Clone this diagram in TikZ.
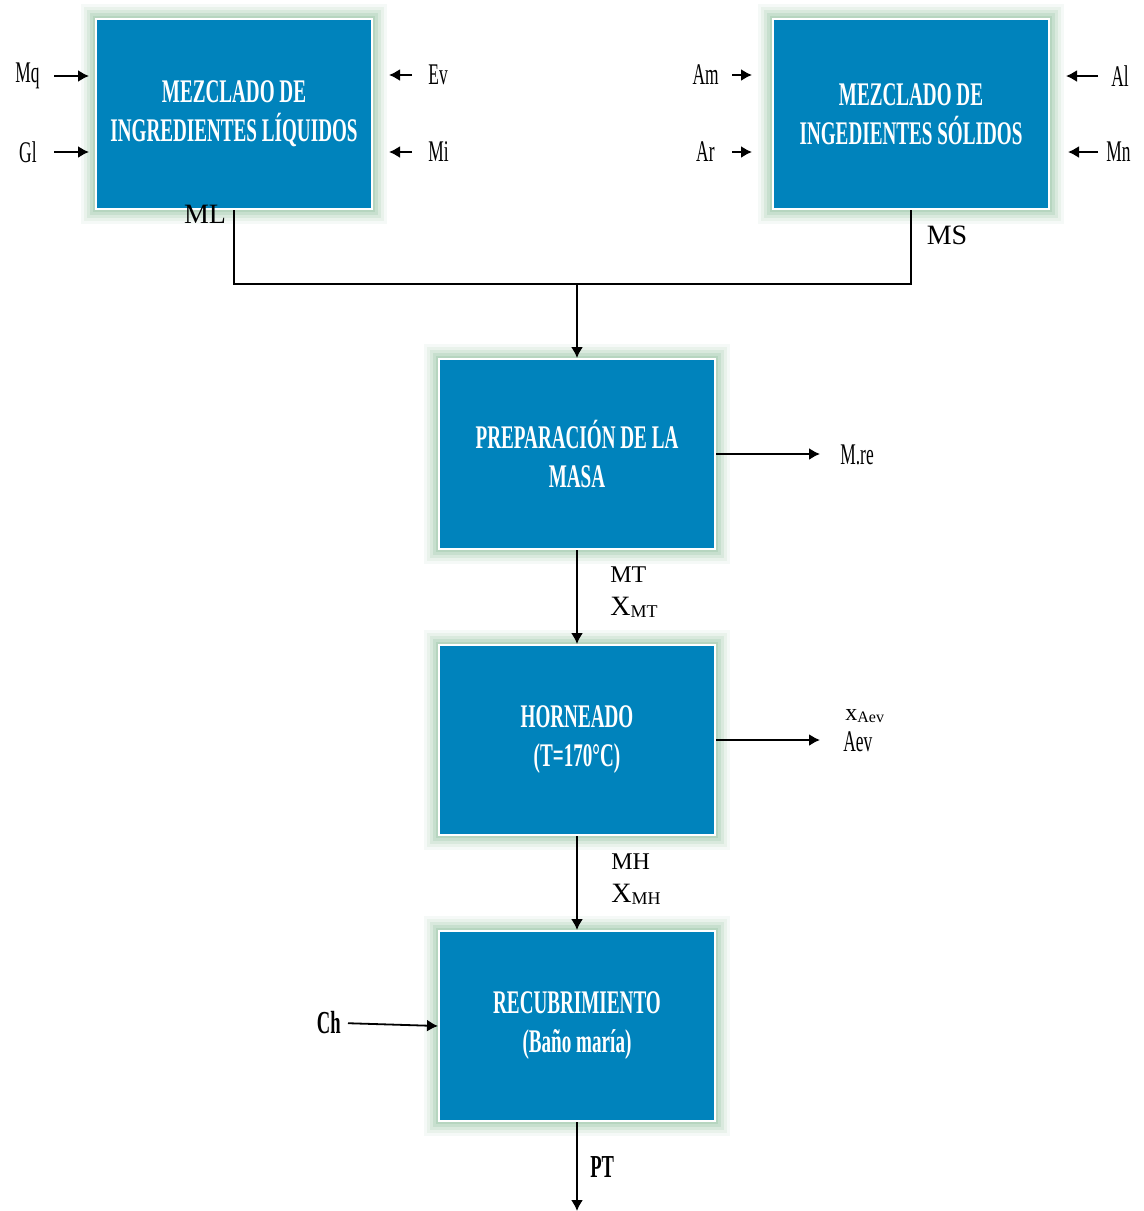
\documentclass[tikz,border=0pt]{standalone}
\usepackage{fontspec}
\setmainfont{Liberation Serif}
\newfontfamily\narrowfont[FakeStretch=0.58]{Liberation Serif}
\usepackage{xcolor}
\usepackage{tikz}
\usetikzlibrary{arrows.meta}
\definecolor{procblue}{RGB}{0,131,188}
\definecolor{glowgreen}{RGB}{160,200,172}
\tikzstyle{node:process}=[rectangle,draw=white,line width=1pt,fill=procblue,text=white,
  minimum width=138pt,minimum height=95pt,inner sep=0pt,align=center,
  font=\narrowfont\bfseries\fontsize{16.5}{19.5}\selectfont,
  preaction={draw=glowgreen,line width=15pt,opacity=0.10,rounded corners=6pt},
  preaction={draw=glowgreen,line width=12pt,opacity=0.15,rounded corners=5pt},
  preaction={draw=glowgreen,line width=9pt,opacity=0.22,rounded corners=4pt},
  preaction={draw=glowgreen,line width=6pt,opacity=0.3,rounded corners=2pt},
  preaction={draw=glowgreen,line width=3pt,opacity=0.45}]
\tikzstyle{node:label}=[inner sep=0pt,font=\narrowfont\fontsize{15}{15}\selectfont]
\tikzstyle{node:boldlabel}=[inner sep=0pt,font=\narrowfont\bfseries\fontsize{16}{16}\selectfont]
\tikzstyle{node:stream}=[inner sep=0pt,font=\fontsize{14}{14}\selectfont]
\tikzstyle{draw:flow}=[-{Latex[length=5.5pt,width=6pt]}, line width=0.9pt]
\tikzstyle{draw:line}=[line width=0.9pt]

\begin{document}
\begin{tikzpicture}[x=0.5pt,y=-0.5pt]
        \useasboundingbox (0,0) rectangle (1144,1211);

        % Mixing stage
        \node[node:process] (B1) at (234,114) {MEZCLADO DE\\INGREDIENTES LÍQUIDOS};
        \node[node:process] (B2) at (911,114) {MEZCLADO DE\\INGEDIENTES SÓLIDOS};

        % Main line
        \node[node:process] (B3) at (577,454) {PREPARACIÓN DE LA\\MASA};
        \node[node:process] (B4) at (577,740) {HORNEADO\\(T=170°C)};
        \node[node:process] (B5) at (577,1026) {RECUBRIMIENTO\\(Baño maría)};

        % Inputs of the mixers
        \node[node:label,anchor=east] (Mq) at (40,76) {Mq};
        \node[node:label,anchor=east] (Gl) at (37,152) {Gl};
        \node[node:label,anchor=west] (Ev) at (428,75) {Ev};
        \node[node:label,anchor=west] (Mi) at (428,152) {Mi};
        \node[node:label,anchor=east] (Am) at (719,75) {Am};
        \node[node:label,anchor=east] (Ar) at (715,152) {Ar};
        \node[node:label,anchor=west] (Al) at (1111,76) {Al};
        \node[node:label,anchor=west] (Mn) at (1106,152) {Mn};

        \foreach \lab/\a/\b in {Mq/7/3, Gl/8.5/3} {
                \draw[draw:flow, shorten <=\a pt, shorten >=\b pt] (\lab.east) -- (B1.west |- \lab.east);
            }
        \foreach \lab/\a/\b in {Ev/8/8, Mi/8/8} {
                \draw[draw:flow, shorten <=\a pt, shorten >=\b pt] (\lab.west) -- (B1.east |- \lab.west);
            }
        \foreach \lab/\a/\b in {Am/6.5/10, Ar/8.5/10} {
                \draw[draw:flow, shorten <=\a pt, shorten >=\b pt] (\lab.east) -- (B2.west |- \lab.east);
            }
        \foreach \lab/\a/\b in {Al/6.5/8, Mn/4/9} {
                \draw[draw:flow, shorten <=\a pt, shorten >=\b pt] (\lab.west) -- (B2.east |- \lab.west);
            }

        % Streams between the stages
        \coordinate (J) at (577,284);
        \coordinate (End) at (577,1211);
        \draw[draw:line] (B1.south) |- (J) -| (B2.south);
        \draw[draw:flow] (J) -- (B3.north);
        \draw[draw:flow] (B3.south) -- (B4.north);
        \draw[draw:flow] (B4.south) -- (B5.north);
        \draw[draw:flow] (B5.south) -- (End);

        \node[node:stream] (ML) at (205,214) {ML};
        \node[node:stream] (MS) at (947,235) {MS};
        \node[node:stream,anchor=west,font=\fontsize{12}{12}\selectfont] (MT) at (610,575) {MT};
        \node[node:stream,anchor=west] (XMT) at (610,607) {X\raisebox{-1pt}{\fontsize{9}{9}\selectfont MT}};
        \node[node:stream,anchor=west,font=\fontsize{12}{12}\selectfont] (MH) at (611,862) {MH};
        \node[node:stream,anchor=west] (XMH) at (611,894) {X\raisebox{-1pt}{\fontsize{9}{9}\selectfont MH}};
        \node[node:boldlabel,anchor=west] (PT) at (590,1167) {PT};

        % Outputs and coating input
        \node[node:label,anchor=west] (Mre) at (840,455) {M.re};
        \node[node:stream,anchor=west,font=\fontsize{12}{12}\selectfont] (xAev) at (845,716) {x\raisebox{-1pt}{\fontsize{8}{8}\selectfont Aev}};
        \node[node:label,anchor=west] (Aev) at (843,742) {Aev};
        \node[node:boldlabel,anchor=east] (Ch) at (341,1023) {Ch};

        \draw[draw:flow, shorten >=10pt] (B3.east) -- (B3.east -| Mre.west);
        \draw[draw:flow, shorten >=11.5pt] (B4.east) -- (B4.east -| Aev.west);
        \draw[draw:flow, shorten <=3.5pt] (Ch.east) -- (B5.west);

    \end{tikzpicture}
\end{document}
